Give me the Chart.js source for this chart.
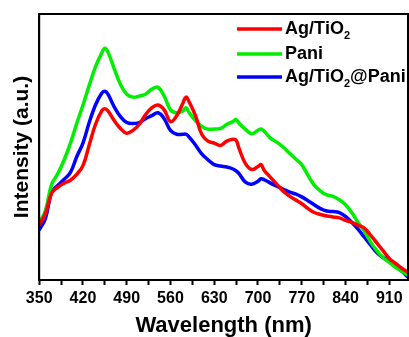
<!DOCTYPE html>
<html><head><meta charset="utf-8">
<script src="https://cdn.jsdelivr.net/npm/chart.js@4.4.0/dist/chart.umd.min.js"></script>
<style>html,body{margin:0;padding:0;background:#fff;}#wrap{width:409px;height:337px;}</style>
</head><body><div id="wrap"><canvas id="c" width="409" height="337"></canvas></div>
<script>
const wavelengths = [350,360,370,380,390,400,410,420,430,440,450,455,460,470,480,490,500,510,520,530,540,550,560,570,580,585,590,600,610,620,630,640,650,660,665,670,680,690,700,705,710,720,730,740,750,760,770,780,790,800,810,820,830,840,850,860,870,880,890,900,910,920,930,940];
const agTiO2 = [56,68,89,95,99,102,108,117,138,159,173,175,173,163,155,150,153,159,169,176,179,174,162,168,181,187,182,168,149,142,140,137.5,142,144,143,134,119,113,116,118,112,105,98,91,86,82,78,73,69,67,65.5,64.5,63.5,61,59,56,53,46,38,30,22,17,12,8];
const pani = [58,71,98,109,123,140,160,179,199,218,232,237,233,216,200,190,187,188,190,195,197,188,174,171,173,176,171,163,157,154.3,154.3,155,159,162,164,160,154,149.5,153,154.3,152,145,141,136,130,124,118,107,97,91,87,85.5,82,77,69,59,50,39,30,23,18,13,9,5];
const agTiO2Pani = [51,63,90,97,103,110,126,140,161,179,191,193,190,177,167,161,160,161,165,168,171,165,153,149,149,149,146,138,129,123,118,116.5,115.5,113.5,111.5,108.5,100,98,101,103.5,102.5,99,96,93,90,88,85,81,77,73,70.5,70,69,65,59,52,44,36,28,23,19,14,9,3];
const seriesLabels = ['Ag/TiO₂', 'Pani', 'Ag/TiO₂@Pani'];
const seriesColors = ['#ff0000', '#00ee00', '#0000ff'];
const xTickLabels = [350,420,490,560,630,700,770,840,910];
const xMin = 350, xMax = 940;

const FONT = "'Liberation Sans', Arial, sans-serif";
const tickValues = [];
xTickLabels.forEach(v => { tickValues.push(v); if (v + 35 <= xMax) tickValues.push(v + 35); });

function toPoints(vals) { return wavelengths.map((w, i) => ({x: w, y: vals[i]})); }
const seriesValues = [agTiO2, pani, agTiO2Pani];

const framePlugin = {
  id: 'frame',
  afterDatasetsDraw(chart) {
    const {ctx, chartArea: a} = chart;
    ctx.save();
    ctx.strokeStyle = '#000';
    ctx.lineWidth = 2;
    ctx.strokeRect(a.left, a.top, a.right - a.left, a.bottom - a.top);
    ctx.restore();
  }
};

const legendPlugin = {
  id: 'subLegend',
  afterDraw(chart) {
    const ctx = chart.ctx;
    const rowsY = [29, 54, 77];
    ctx.save();
    chart.data.datasets.forEach((ds, i) => {
      const y = rowsY[i];
      ctx.strokeStyle = ds.borderColor;
      ctx.lineWidth = 3.5;
      ctx.beginPath();
      ctx.moveTo(237, y);
      ctx.lineTo(282, y);
      ctx.stroke();
      let x = 285;
      ctx.fillStyle = '#000';
      ctx.textBaseline = 'middle';
      for (const ch of ds.label) {
        if (ch === '₂') {
          ctx.font = 'bold 11px ' + FONT;
          ctx.fillText('2', x, y + 7);
          x += ctx.measureText('2').width;
        } else {
          ctx.font = 'bold 18px ' + FONT;
          ctx.fillText(ch, x, y);
          x += ctx.measureText(ch).width;
        }
      }
    });
    ctx.restore();
  }
};

new Chart(document.getElementById('c'), {
  type: 'line',
  data: {
    datasets: seriesValues.map((vals, i) => ({
      label: seriesLabels[i],
      data: toPoints(vals),
      borderColor: seriesColors[i],
      backgroundColor: seriesColors[i],
      borderWidth: 3.5,
      pointRadius: 0,
      tension: 0.4,
      fill: false
    }))
  },
  options: {
    responsive: false,
    animation: false,
    devicePixelRatio: 1,
    layout: {padding: {left: 10, right: 1, top: 14, bottom: 0}},
    plugins: {legend: {display: false}, tooltip: {enabled: false}},
    scales: {
      x: {
        type: 'linear', min: xMin, max: xMax,
        afterBuildTicks: s => { s.ticks = tickValues.map(v => ({value: v})); },
        ticks: {
          autoSkip: false, maxRotation: 0, padding: 6, color: '#000',
          callback: v => xTickLabels.includes(v) ? String(v) : '',
          font: {family: FONT, size: 16, weight: 'bold', lineHeight: 1}
        },
        grid: {drawOnChartArea: false, drawTicks: true, tickLength: 5, tickColor: '#000', tickWidth: 2},
        border: {color: '#000', width: 2},
        title: {display: true, text: 'Wavelength (nm)', color: '#000',
          font: {family: FONT, size: 22, weight: 'bold', lineHeight: 1}, padding: {top: 2, bottom: 0}}
      },
      y: {
        min: 0, max: 272,
        ticks: {display: false},
        grid: {display: false, drawTicks: false},
        border: {display: true, color: '#000', width: 2},
        title: {display: true, text: 'Intensity (a.u.)', color: '#000',
          font: {family: FONT, size: 21, weight: 'bold', lineHeight: 1.2}, padding: {top: 0, bottom: 4}}
      }
    }
  },
  plugins: [framePlugin, legendPlugin]
});
</script></body></html>
